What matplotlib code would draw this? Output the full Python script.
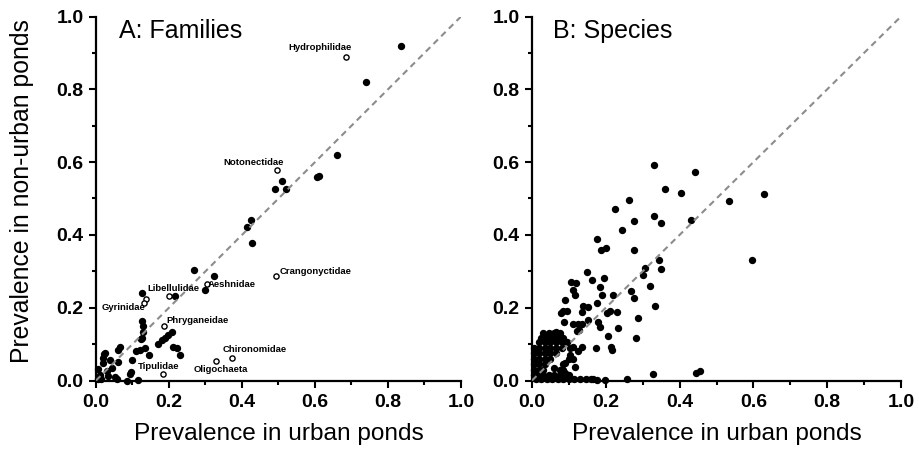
import numpy as np
import matplotlib
matplotlib.use('Agg')
import matplotlib.pyplot as plt
from matplotlib.ticker import MultipleLocator

# Panel A: families, filled points (urban, non-urban)
fam_x = [0.835, 0.74, 0.66, 0.61, 0.605, 0.51, 0.491, 0.52, 0.424, 0.415, 0.428,
         0.268, 0.324, 0.30, 0.127, 0.216,
         0.127, 0.13, 0.13, 0.125, 0.122,
         0.207, 0.198, 0.189, 0.18, 0.171,
         0.21, 0.223, 0.23,
         0.134, 0.121, 0.109, 0.146,
         0.066, 0.061, 0.10, 0.095, 0.093, 0.116, 0.085, 0.061,
         0.025, 0.022, 0.02, 0.018, 0.038, 0.043, 0.029, 0.006, 0.011,
         0.034, 0.052, 0.014, 0.057, 0.006]
fam_y = [0.92, 0.82, 0.62, 0.563, 0.558, 0.549, 0.526, 0.527, 0.441, 0.423, 0.378,
         0.304, 0.286, 0.25, 0.241, 0.232,
         0.163, 0.151, 0.133, 0.117, 0.113,
         0.133, 0.124, 0.117, 0.112, 0.099,
         0.092, 0.09, 0.069,
         0.09, 0.085, 0.081, 0.071,
         0.091, 0.084, 0.055, 0.023, 0.018, 0.002, 0.0, 0.05,
         0.075, 0.073, 0.062, 0.048, 0.055, 0.035, 0.027, 0.032, 0.016,
         0.011, 0.009, 0.003, 0.005, 0.005]

# Panel A: named families (open circles)
named = ['Hydrophilidae', 'Notonectidae', 'Crangonyctidae', 'Aeshnidae',
         'Libellulidae', 'Gyrinidae', 'Phryganeidae', 'Chironomidae',
         'Oligochaeta', 'Tipulidae']
named_x = [0.685, 0.497, 0.493, 0.303, 0.20, 0.136, 0.186, 0.372, 0.329, 0.183]
named_y = [0.888, 0.577, 0.288, 0.264, 0.231, 0.225, 0.151, 0.061, 0.053, 0.018]
extra_open_x = [0.131]
extra_open_y = [0.212]
lab_x = [0.614, 0.433, 0.504, 0.307, 0.142, 0.016, 0.192, 0.347, 0.267, 0.116]
lab_y = [0.915, 0.60, 0.30, 0.264, 0.253, 0.20, 0.165, 0.084, 0.03, 0.038]
lab_ha = ['center', 'center', 'left', 'left', 'left', 'left', 'left', 'left',
          'left', 'left']

# Panel B: species (scattered part)
sp_x = [0.331, 0.442, 0.36, 0.403, 0.263, 0.533, 0.629, 0.225, 0.331, 0.277,
        0.35, 0.432, 0.245, 0.177, 0.186, 0.2, 0.277, 0.595, 0.345, 0.35,
        0.306, 0.302, 0.195, 0.32, 0.267, 0.184, 0.148, 0.162, 0.105, 0.118,
        0.112, 0.117, 0.276, 0.22, 0.189, 0.177, 0.089, 0.139, 0.153, 0.135,
        0.083, 0.078, 0.094, 0.211, 0.23, 0.204, 0.333, 0.286, 0.088, 0.112,
        0.126, 0.135, 0.153, 0.18, 0.184, 0.121, 0.128, 0.234, 0.033, 0.058,
        0.065, 0.205, 0.282, 0.112, 0.103, 0.135, 0.126, 0.173, 0.214, 0.216,
        0.103, 0.11, 0.089, 0.117, 0.083, 0.10, 0.327, 0.444, 0.455,
        0.166, 0.175, 0.198, 0.258,
        0.06, 0.075, 0.085, 0.10, 0.09]
sp_y = [0.593, 0.573, 0.527, 0.515, 0.497, 0.493, 0.511, 0.47, 0.451, 0.437,
        0.434, 0.441, 0.414, 0.389, 0.359, 0.364, 0.359, 0.331, 0.331, 0.305,
        0.31, 0.291, 0.282, 0.259, 0.247, 0.258, 0.299, 0.275, 0.27, 0.267,
        0.249, 0.236, 0.227, 0.236, 0.234, 0.212, 0.22, 0.206, 0.203, 0.188,
        0.192, 0.185, 0.192, 0.192, 0.188, 0.185, 0.204, 0.172, 0.162, 0.156,
        0.156, 0.154, 0.165, 0.16, 0.148, 0.135, 0.139, 0.145, 0.122, 0.126,
        0.133, 0.122, 0.117, 0.093, 0.09, 0.092, 0.082, 0.089, 0.093, 0.084,
        0.069, 0.06, 0.049, 0.038, 0.029, 0.016, 0.018, 0.02, 0.026,
        0.003, 0.002, 0.002, 0.005,
        0.035, 0.03, 0.045, 0.06, 0.02]

# Panel B: dense cluster of rare species near the origin
clu_x = [0.03, 0.045, 0.06, 0.075,
         0.025, 0.04, 0.055, 0.07, 0.085,
         0.02, 0.035, 0.05, 0.065, 0.08, 0.095,
         0.005, 0.02, 0.035, 0.05, 0.065, 0.08,
         0.005, 0.02, 0.035, 0.05, 0.065,
         0.005, 0.02, 0.035, 0.05,
         0.005, 0.02, 0.035,
         0.005, 0.02, 0.03,
         0.005, 0.015, 0.03, 0.045, 0.06, 0.075, 0.09,
         0.01, 0.025, 0.04, 0.055, 0.07, 0.085, 0.10, 0.115, 0.13, 0.145, 0.16]
clu_y = [0.13, 0.13, 0.13, 0.13,
         0.118, 0.118, 0.118, 0.118, 0.118,
         0.105, 0.105, 0.105, 0.105, 0.105, 0.105,
         0.09, 0.09, 0.09, 0.09, 0.09, 0.09,
         0.075, 0.075, 0.075, 0.075, 0.075,
         0.06, 0.06, 0.06, 0.06,
         0.045, 0.045, 0.045,
         0.03, 0.03, 0.03,
         0.015, 0.015, 0.015, 0.015, 0.015, 0.015, 0.015,
         0.004, 0.004, 0.004, 0.004, 0.004, 0.004, 0.004, 0.004, 0.004, 0.004, 0.004]

ticks = [0.0, 0.2, 0.4, 0.6, 0.8, 1.0]
tick_labels = ['0.0', '0.2', '0.4', '0.6', '0.8', '1.0']

plt.rcParams['font.family'] = ['Liberation Sans', 'DejaVu Sans']

fig = plt.figure(figsize=(9.2, 4.51), dpi=100)
fig.set_facecolor('white')
axA = fig.add_axes([96/920, 70.5/451, 365/920, 364/451])
axB = fig.add_axes([532/920, 70.5/451, 369/920, 364/451])

for ax in (axA, axB):
    ax.plot([0, 1], [0, 1], color='#8c8c8c', lw=1.5, dashes=(3, 2.2), zorder=4)
    ax.set_xlim(0, 1)
    ax.set_ylim(0, 1)
    for s in ('top', 'right'):
        ax.spines[s].set_visible(False)
    for s in ('left', 'bottom'):
        ax.spines[s].set_linewidth(1.6)
    ax.set_xticks(ticks)
    ax.set_xticklabels(tick_labels, fontweight='bold', fontsize=14)
    ax.set_yticks(ticks)
    ax.set_yticklabels(tick_labels, fontweight='bold', fontsize=14)
    ax.xaxis.set_minor_locator(MultipleLocator(0.1))
    ax.yaxis.set_minor_locator(MultipleLocator(0.1))
    ax.tick_params(which='major', direction='out', length=5, width=1.5)
    ax.tick_params(which='minor', direction='out', length=3, width=1.5)
    ax.tick_params(axis='x', which='major', pad=5)
    ax.tick_params(axis='y', which='major', pad=4)
    ax.set_xlabel('Prevalence in urban ponds', fontsize=17.6)
    ax.xaxis.set_label_coords(0.5, -0.118)

axA.scatter(fam_x, fam_y, s=28, c='black', lw=0, zorder=3, clip_on=False)
axA.scatter(named_x + extra_open_x, named_y + extra_open_y, s=14,
            facecolors='white', edgecolors='black', lw=1.0, zorder=3)
for name, x, y, ha in zip(named, lab_x, lab_y, lab_ha):
    axA.text(x, y, name, fontsize=6.8, fontweight='bold', ha=ha, va='center',
             zorder=5)
axA.text(0.063, 0.959, 'A: Families', fontsize=18, va='center', ha='left')
axA.set_ylabel('Prevalence in non-urban ponds', fontsize=17.8)
axA.yaxis.set_label_coords(-0.17, 0.52)

axB.scatter(sp_x, sp_y, s=28, c='black', lw=0, zorder=3, clip_on=False)
axB.scatter(clu_x, clu_y, s=28, c='black', lw=0, zorder=3, clip_on=False)
axB.text(0.057, 0.959, 'B: Species', fontsize=18, va='center', ha='left')

fig.savefig('out.png', dpi=100)
